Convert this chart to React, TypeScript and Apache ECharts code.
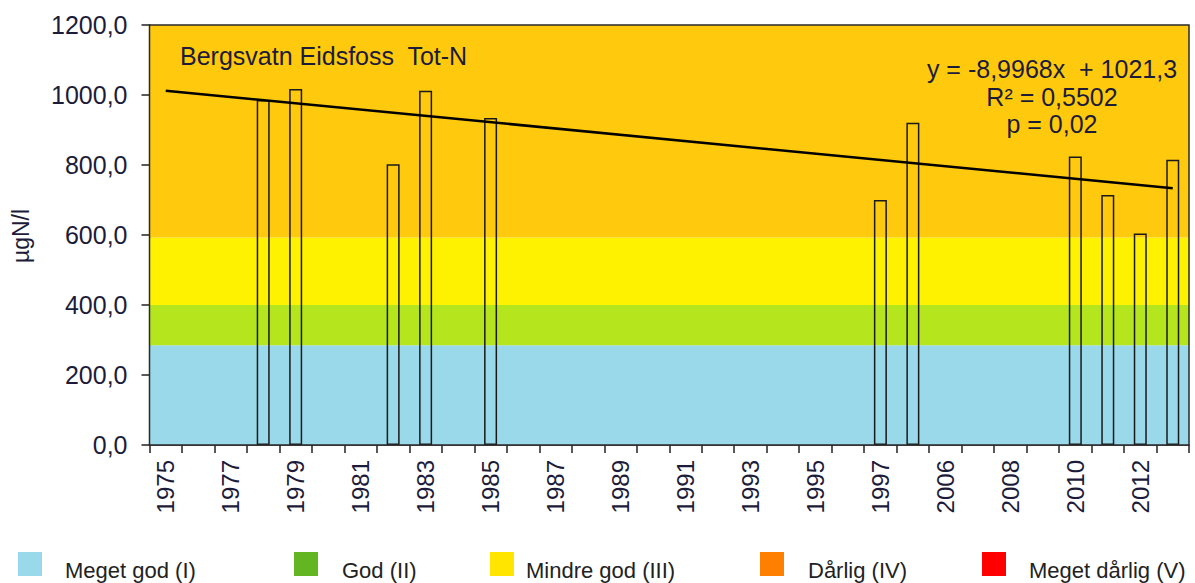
import React, { useEffect, useRef } from "react";
import * as echarts from "echarts";

const categories = [
  "1975", "1976", "1977", "1978", "1979", "1980", "1981", "1982", "1983", "1984",
  "1985", "1986", "1987", "1988", "1989", "1990", "1991", "1992", "1993", "1994",
  "1995", "1996", "1997", "2005", "2006", "2007", "2008", "2009", "2010", "2011",
  "2012", "2013",
];

const totN: (number | null)[] = [
  null, null, null, 986, 1017, null, null, 802, 1012, null,
  934, null, null, null, null, null, null, null, null, null,
  null, null, 700, 921, null, null, null, null, 824, 714,
  604, 815,
];

// trend line end values (y = -8,9968x + 1021,3 at first and last category)
const trendEnds = [1012.3, 733.4];

const yTicks = { min: 0, max: 1200, interval: 200 };

const bandLimits = [0, 285, 400, 593, 1200];
const bandColors = ["#99D9EA", "#B5E61D", "#FFF200", "#FFC90E"];

const legendLabels = ["Meget god (I)", "God (II)", "Mindre god (III)", "Dårlig (IV)", "Meget dårlig (V)"];
const legendColors = ["#99D9EA", "#63B521", "#FFE500", "#FF8000", "#FF0000"];
const legendSquareX = [18, 294, 490, 760, 982];
const legendTextX = [65, 342, 526, 808, 1029];

const equationLines = ["y = -8,9968x  + 1021,3", "R² = 0,5502", "p = 0,02"];
const titleText = "Bergsvatn Eidsfoss  Tot-N";
const yName = "µgN/l";

const FONT = '"Liberation Sans", Arial, sans-serif';
const TXT = "#1c1c3a";

export default function App() {
  const ref = useRef<HTMLDivElement>(null);
  useEffect(() => {
    const chart = echarts.init(ref.current!, null, { renderer: "svg" });
    const trend = categories.map((_, i) =>
      i === 0 ? trendEnds[0] : i === categories.length - 1 ? trendEnds[1] : null
    );
    const bands = bandColors.map((c, i) => [
      { yAxis: bandLimits[i], itemStyle: { color: c, opacity: 1 } },
      { yAxis: bandLimits[i + 1] },
    ]);

    const graphics: any[] = [];
    graphics.push({
      type: "text",
      x: 180,
      y: 56,
      z: 50,
      style: {
        text: titleText,
        font: `25px ${FONT}`,
        fill: TXT,
        align: "left",
        verticalAlign: "middle",
        textAlign: "left",
        textVerticalAlign: "middle",
      },
    });
    equationLines.forEach((t, i) => {
      graphics.push({
        type: "text",
        x: 1052,
        y: 69 + i * 27.5,
        z: 50,
        style: {
          text: t,
          font: `25px ${FONT}`,
          fill: TXT,
          align: "center",
          verticalAlign: "middle",
          textAlign: "center",
          textVerticalAlign: "middle",
        },
      });
    });
    graphics.push({
      type: "text",
      x: 21,
      y: 236,
      rotation: Math.PI / 2,
      z: 50,
      style: {
        text: yName,
        font: `23px ${FONT}`,
        fill: TXT,
        align: "center",
        verticalAlign: "middle",
        textAlign: "center",
        textVerticalAlign: "middle",
      },
    });
    legendLabels.forEach((l, i) => {
      graphics.push({
        type: "rect",
        shape: { x: legendSquareX[i], y: 552, width: 24, height: 24 },
        style: { fill: legendColors[i] },
        z: 50,
      });
      graphics.push({
        type: "text",
        x: legendTextX[i],
        y: 570,
        z: 50,
        style: {
          text: l,
          font: `22px ${FONT}`,
          fill: "#222",
          align: "left",
          verticalAlign: "middle",
          textAlign: "left",
          textVerticalAlign: "middle",
        },
      });
    });
    graphics.push({
      type: "rect",
      shape: { x: 149.5, y: 25, width: 1039.5, height: 420 },
      style: { fill: "none", stroke: "#2a2a2a", lineWidth: 1.5 },
      z: 40,
      silent: true,
    });

    chart.setOption({
      animation: false,
      backgroundColor: "#fff",
      grid: { left: 149.5, right: 6, top: 25, bottom: 138 },
      xAxis: {
        type: "category",
        data: categories,
        boundaryGap: true,
        axisLine: { lineStyle: { color: "#222", width: 1.5 } },
        axisTick: { show: true, interval: 0, length: 8, lineStyle: { color: "#222", width: 1.5 } },
        axisLabel: {
          interval: 1,
          rotate: 90,
          fontSize: 24,
          fontFamily: FONT,
          color: TXT,
          margin: 15,
        },
        splitLine: { show: false },
      },
      yAxis: {
        type: "value",
        min: yTicks.min,
        max: yTicks.max,
        interval: yTicks.interval,
        axisLine: { show: true, lineStyle: { color: "#222", width: 1.5 } },
        axisTick: { show: true, length: 8, lineStyle: { color: "#222", width: 1.5 } },
        axisLabel: {
          fontSize: 25,
          fontFamily: FONT,
          color: TXT,
          margin: 22,
          formatter: (v: number) => v.toFixed(1).replace(".", ","),
        },
        splitLine: { show: false },
      },
      series: [
        {
          type: "line",
          data: categories.map(() => null),
          z: 1,
          silent: true,
          markArea: { silent: true, data: bands },
        },
        {
          type: "bar",
          data: totN,
          barWidth: 13,
          z: 3,
          itemStyle: { color: "rgba(0,0,0,0)", borderColor: "#1a1a1a", borderWidth: 1.5 },
        },
        {
          type: "line",
          data: trend,
          connectNulls: true,
          symbol: "none",
          showSymbol: false,
          z: 4,
          lineStyle: { color: "#000", width: 2.5 },
        },
      ],
      graphic: graphics,
    });
    return () => chart.dispose();
  }, []);
  return (
    <div
      ref={ref}
      style={{ position: "fixed", left: 0, top: 0, width: 1195, height: 583, background: "#fff" }}
    />
  );
}
